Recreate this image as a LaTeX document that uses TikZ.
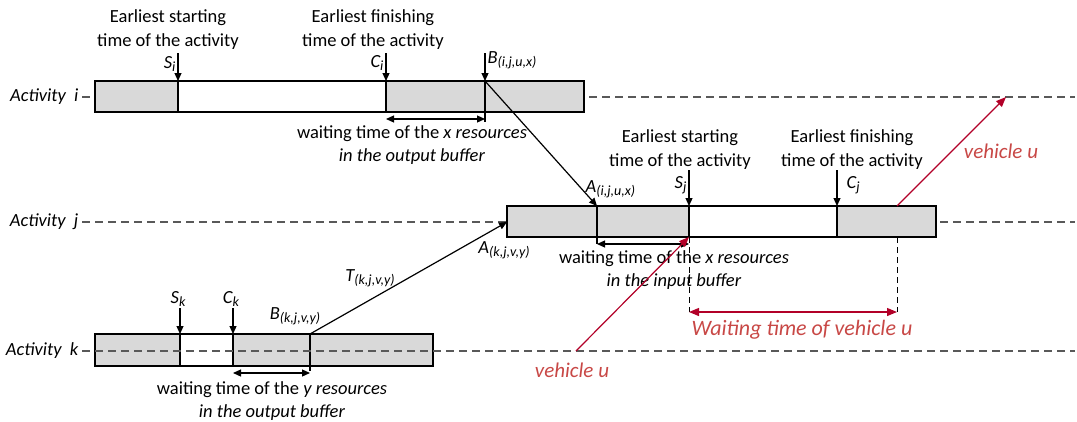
\documentclass[tikz,border=0pt]{standalone}
\usepackage{fontspec}
\setmainfont{Carlito}
\usetikzlibrary{arrows.meta,positioning}
\definecolor{vred}{RGB}{178,0,40}
\definecolor{vtext}{RGB}{200,72,70}
\newcommand{\ev}[2]{\textit{#1}\raisebox{-0.35ex}{\fontsize{14}{15}\selectfont\textit{#2}}}

\begin{document}
\begin{tikzpicture}[x=1pt,y=-1pt,line width=1.2pt,
   font=\fontsize{18.5}{23.5}\selectfont,
   >={Triangle[length=8pt,width=7pt]},
   bar/.style={draw,fill=black!15},
   gap/.style={draw,fill=white},
   row/.style={draw=black!65,dash pattern=on 8pt off 5pt},
   guide/.style={line width=0.8pt,dash pattern=on 6pt off 4pt},
   veh/.style={draw=vred,line width=1.2pt,>={Triangle[length=10pt,width=8pt]}},
   head/.style={align=center,inner sep=0pt},
   lbl/.style={inner sep=0pt,font=\fontsize{18.5}{22}\selectfont\itshape},
   vlbl/.style={inner sep=0pt,text=vtext,font=\fontsize{21}{24}\selectfont\itshape}]
   \useasboundingbox (0,0) rectangle (1077,421);
   % rows and their time axes
   \node[lbl,anchor=east] (act_i) at (79,97)  {Activity\ \ i};
   \node[lbl,anchor=east] (act_j) at (79,222) {Activity\ \ j};
   \node[lbl,anchor=east] (act_k) at (79,351) {Activity\ \ k};
   \coordinate (end_i) at (1075,97);
   \coordinate (end_j) at (1075,222);
   \coordinate (end_k) at (1075,351);
   \draw[row] ([xshift=3pt]act_i.east) -- (end_i);
   \draw[row] ([xshift=3pt]act_j.east) -- (end_j);

   % activity i
   \draw[bar] (95,81) rectangle (584,112);
   \draw[gap] (178,81) rectangle (386,112);
   \coordinate (S_i) at (178,81);
   \coordinate (C_i) at (386,81);
   \coordinate (B_i) at (485,81);
   \draw (B_i) -- ++(0,41);
   \draw[<-] (S_i) -- ++(0,-28);
   \draw[<-] (C_i) -- ++(0,-28);
   \draw[<-] (B_i) -- ++(0,-28);
   \draw[<->] ([yshift=-38pt]C_i) -- ([yshift=-38pt]B_i);
   \node[lbl,anchor=east] (l_si) at (176,64) {\ev{S}{i}};
   \node[lbl,anchor=east] (l_ci) at (384,63) {\ev{C}{i}};
   \node[lbl,anchor=west] (l_bi) at (487,60) {\ev{B}{(i,j,u,x)}};
   \node[head] (h_si) at (168,29.5) {Earliest starting\\time of the activity};
   \node[head] (h_ci) at (373,29.5) {Earliest finishing\\time of the activity};
   \node[head] (w_i) at (412,145) {waiting time of the \textit{x resources}\\\textit{in the output buffer}};

   % activity j
   \draw[bar] (507,206) rectangle (936,237);
   \draw[gap] (689,206) rectangle (837,237);
   \coordinate (A_ij) at (597,206);
   \coordinate (A_kj) at (507,222);
   \coordinate (S_j) at (689,206);
   \coordinate (C_j) at (837,206);
   \coordinate (V_j) at (897,206);
   \coordinate (Sj_b) at (689,237);
   \coordinate (Vj_b) at (897,237);
   \draw (A_ij) -- ++(0,38);
   \draw[<-] (S_j) -- ++(0,-36);
   \draw[<-] (C_j) -- ++(0,-36);
   \draw[<->] ([yshift=-38pt]A_ij) -- ([yshift=-38pt]S_j);
   \node[lbl,anchor=west] (l_aij) at (585,189) {\ev{A}{(i,j,u,x)}};
   \node[lbl,anchor=east] (l_sj) at (687,185) {\ev{S}{j}};
   \node[lbl,anchor=west] (l_cj) at (846,185) {\ev{C}{j}};
   \node[lbl] (l_akj) at (504,250) {\ev{A}{(k,j,v,y)}};
   \node[head] (h_sj) at (680,149.5) {Earliest starting\\time of the activity};
   \node[head] (h_cj) at (852,149.5) {Earliest finishing\\time of the activity};
   \node[head] (w_j) at (674,270) {waiting time of the \textit{x resources}\\\textit{in the input buffer}};

   % activity k
   \draw[bar] (95,334) rectangle (433,366);
   \draw[gap] (180,334) rectangle (233,366);
   \coordinate (S_k) at (180,334);
   \coordinate (C_k) at (233,334);
   \coordinate (B_k) at (310,334);
   \draw (B_k) -- ++(0,37);
   \draw[row] ([xshift=3pt]act_k.east) -- (end_k);
   \draw[<-] (S_k) -- ++(0,-26);
   \draw[<-] (C_k) -- ++(0,-26);
   \draw[<->] ([yshift=-39pt]C_k) -- ([yshift=-39pt]B_k);
   \node[lbl] (l_sk) at (178,299) {\ev{S}{k}};
   \node[lbl] (l_ck) at (231,299) {\ev{C}{k}};
   \node[lbl] (l_bk) at (295,316) {\ev{B}{(k,j,v,y)}};
   \node[lbl] (l_tk) at (370,278) {\ev{T}{(k,j,v,y)}};
   \node[head] (w_k) at (272,401) {waiting time of the \textit{y resources}\\\textit{in the output buffer}};

   % transfers between activities
   \draw[->] (B_i) -- (A_ij);
   \draw[->] (B_k) -- (A_kj);

   % vehicle u
   \coordinate (V_k) at (576,351);
   \coordinate (V_i) at (1006,97);
   \coordinate (W_a) at (689,312);
   \coordinate (W_b) at (897,312);
   \draw[guide] (Sj_b) -- (W_a);
   \draw[guide] (Vj_b) -- (W_b);
   \draw[veh,->] (V_k) -- (Sj_b);
   \draw[veh,->] (V_j) -- (V_i);
   \draw[veh,<->] (W_a) -- (W_b);
   \node[vlbl] (l_vk) at (572,370) {vehicle u};
   \node[vlbl] (l_vi) at (1001,151) {vehicle u};
   \node[vlbl,font=\fontsize{22}{25}\selectfont\itshape] (l_w) at (802,330) {Waiting time of vehicle u};
\end{tikzpicture}
\end{document}
